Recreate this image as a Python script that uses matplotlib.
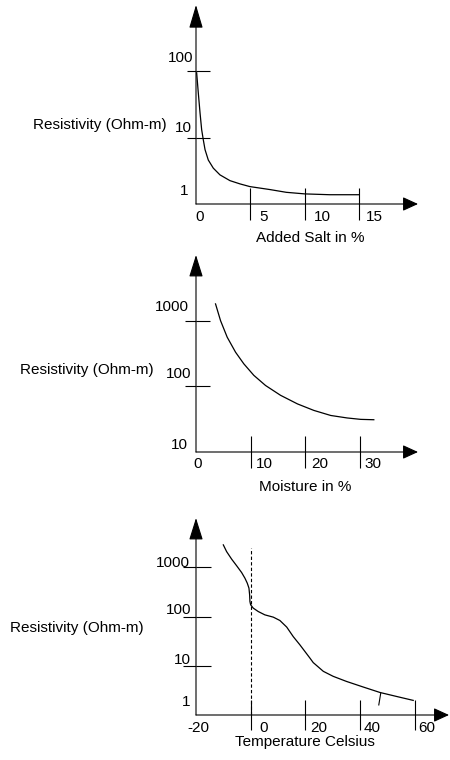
import matplotlib
matplotlib.use("Agg")
import matplotlib.pyplot as plt
from matplotlib.ticker import FixedLocator, NullFormatter

plt.rcParams['font.family'] = ['Liberation Sans', 'DejaVu Sans']
plt.rcParams['font.size'] = 11

# --- data ---
salt_x = [0.06, 0.21, 0.37, 0.52, 0.67, 0.83, 1.13, 1.59, 2.2, 3.12, 4.04, 4.95, 6.8,
          8.3, 10.0, 12.3, 15.0]
salt_y = [95, 47.6, 23.7, 13.2, 9.3, 6.6, 4.6, 3.47, 2.75, 2.25, 2.01, 1.83, 1.65,
          1.5, 1.42, 1.38, 1.38]
salt_xticks = [5, 10, 15]
salt_xlabels = ['0', '5', '10', '15']
salt_yticks = [10, 100]
salt_ylabels = ['1', '10', '100']

moist_x = [3.58, 4.5, 5.72, 7.25, 8.77, 10.6, 12.75, 15.5, 18.6, 21.6, 24.7, 27.7, 30.2, 32.6]
moist_y = [1800, 1000, 560, 331, 220, 147, 103, 73, 54, 43, 36, 33, 31.4, 31]
moist_xticks = [10, 20, 30]
moist_xlabels = ['0', '10', '20', '30']
moist_yticks = [100, 1000]
moist_ylabels = ['10', '100', '1000']

temp_x = [-10.0, -8.8, -6.95, -5.1, -3.3, -2.1, -1.24, -0.62, -0.37, -0.26, 0.0, 0.95,
          2.8, 5.2, 8.3, 10.7, 13.2, 15.6, 18.0, 21.7, 22.9, 26.6, 30.2, 35.1, 41.2,
          47.3, 53.4, 59.5]
temp_y = [2846, 2080, 1460, 1068, 781, 601, 476, 377, 275, 201, 173, 148,
          126, 108, 97, 83, 61, 39, 26.7, 14.3, 11.6, 7.7, 6.1, 4.8, 3.7,
          2.87, 2.38, 1.98]
temp_xticks = [0, 20, 40, 60]
temp_xlabels = ['-20', '0', '20', '40', '60']
temp_yticks = [10, 100, 1000]
temp_ylabels = ['1', '10', '100', '1000']
freeze_top = 2450
slash_x = [46.9, 47.6]
slash_y = [1.6, 2.75]

W, H = 450, 760
fig = plt.figure(figsize=(W / 100, H / 100), dpi=100)


def box(left, top, right, bottom):
    return [left / W, 1 - bottom / H, (right - left) / W, (bottom - top) / H]


def setup(rect, xlim, ylim, xticks, yticks, xtick_len, ytick_in, ytick_out, yhead=1.37):
    ax = fig.add_axes(rect)
    ax.set_yscale('log')
    ax.set_xlim(xlim)
    ax.set_ylim(ylim)
    for s in ax.spines.values():
        s.set_visible(False)
    ax.set_xticks(xticks)
    ax.yaxis.set_major_locator(FixedLocator(yticks))
    ax.yaxis.set_minor_locator(FixedLocator(yticks))
    ax.yaxis.set_minor_formatter(NullFormatter())
    ax.yaxis.remove_overlapping_locs = False
    ax.tick_params(axis='x', which='both', direction='inout', length=xtick_len,
                   width=0.8, labelbottom=False)
    ax.tick_params(axis='y', which='major', direction='in', length=ytick_in,
                   width=0.8, labelleft=False)
    ax.tick_params(axis='y', which='minor', direction='out', length=ytick_out,
                   width=0.8, labelleft=False)
    ax.patch.set_alpha(0)
    ax.annotate('', xy=(0, 1), xytext=(0, 0), xycoords='axes fraction',
                arrowprops=dict(arrowstyle='-|>,head_length=%g,head_width=0.43' % yhead,
                                mutation_scale=10, lw=0.8, color='black',
                                shrinkA=0, shrinkB=0), annotation_clip=False)
    ax.annotate('', xy=(1, 0), xytext=(0, 0), xycoords='axes fraction',
                arrowprops=dict(arrowstyle='-|>,head_length=0.94,head_width=0.43',
                                mutation_scale=10, lw=0.8, color='black',
                                shrinkA=0, shrinkB=0), annotation_clip=False)
    return ax


def xlabels(ax, vals, labels, offs, dy):
    y0 = ax.get_ylim()[0]
    for v, s, dx in zip(vals, labels, offs):
        ax.annotate(s, xy=(v, y0), xytext=(dx, -dy), textcoords='offset pixels',
                    ha='left', va='top', annotation_clip=False)


def ylabels(ax, vals, labels, offs):
    x0 = ax.get_xlim()[0]
    for v, s, (dx, dy) in zip(vals, labels, offs):
        ax.annotate(s, xy=(x0, v), xytext=(dx, dy), textcoords='offset pixels',
                    ha='right', va='baseline', annotation_clip=False)


def ftext(x, y, s, ha='center'):
    fig.text(x / W, 1 - y / H, s, ha=ha, va='center')


# --- panel 1: added salt ---
ax1 = setup(box(196, 5, 418, 204), (0, 20.4), (1, 1000), salt_xticks, salt_yticks,
            23, 10, 6.5, yhead=1.45)
ax1.plot(salt_x, salt_y, color='black', lw=0.9)
xlabels(ax1, [0] + salt_xticks, salt_xlabels, [-1, 9, 9, 7], 6)
ylabels(ax1, [1] + salt_yticks, salt_ylabels, [(-8, 9), (-4, 6), (-3, 9)])
ftext(310, 238, 'Added Salt in %')
ftext(167, 125, 'Resistivity (Ohm-m)', ha='right')

# --- panel 2: moisture ---
ax2 = setup(box(196, 255, 418, 452), (0, 40.7), (10, 10000), moist_xticks, moist_yticks,
            23, 10, 8)
ax2.plot(moist_x, moist_y, color='black', lw=0.9)
xlabels(ax2, [0] + moist_xticks, moist_xlabels, [-3, 5, 6, 5], 5)
ylabels(ax2, [10] + moist_yticks, moist_ylabels, [(-8, 3), (-5, 8), (-7, 10)])
ftext(305, 487, 'Moisture in %')
ftext(154, 370, 'Resistivity (Ohm-m)', ha='right')

# --- panel 3: temperature ---
ax3 = setup(box(196, 518, 449, 715), (-20, 72.6), (1, 10000), temp_xticks, temp_yticks,
            21.6, 10.8, 9.4)
ax3.plot(temp_x, temp_y, color='black', lw=0.9)
ax3.vlines(0, 1, freeze_top, colors='black', lw=0.8, linestyles=(0, (3, 2)))
ax3.plot(slash_x, slash_y, color='black', lw=0.8)
xlabels(ax3, [-20] + temp_xticks, temp_xlabels, [-9, 9, 5, 4, 4], 6)
ylabels(ax3, [1] + temp_yticks, temp_ylabels, [(-6, 9), (-5, 2), (-5, 2), (-6, 0)])
ftext(305, 742, 'Temperature Celsius')
ftext(144, 628, 'Resistivity (Ohm-m)', ha='right')

fig.savefig('out.png', dpi=100)
